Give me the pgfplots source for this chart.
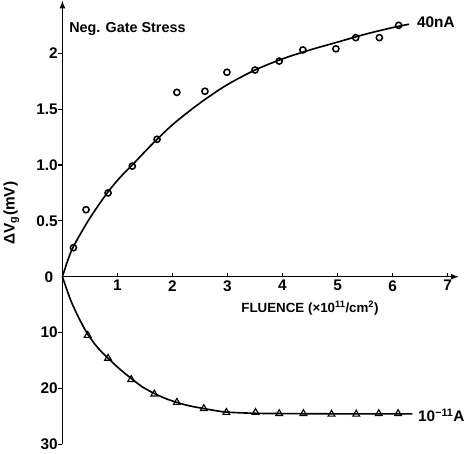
\documentclass[border=0pt]{standalone}
\usepackage{pgfplots}
\pgfplotsset{compat=1.18}
\usepackage{fontspec}
\setmainfont{Liberation Sans}

\begin{document}
\begin{tikzpicture}
\begin{axis}[
    scale only axis,
    width=385bp, height=431bp,
    xmin=0, xmax=7.2,
    ymin=-1.5, ymax=2.47,
    axis lines=middle,
    axis line style={line width=1.5pt},
    x axis line style={-latex},
    y axis line style={-latex},
    xtick={1,...,7},
    ytick={-1.5,-1,-0.5,0.5,1,1.5,2},
    yticklabels={30,20,10,0.5,1.0,1.5,2},
    xtick align=inside,
    ytick align=outside,
    major tick length=4bp,
    tick style={black, line width=1pt},
    tick label style={font=\fontsize{15}{18}\selectfont\bfseries},
    yticklabel style={xshift=3bp},
    /pgf/number format/assume math mode=true,
    clip=false]
    % 40 nA : upper curve
    \addplot[black, line width=1.6pt, smooth] coordinates {
        (0,0) (0.1,0.15) (0.2,0.27) (0.43,0.47) (0.6,0.6) (0.83,0.76)
        (1.05,0.89) (1.27,1.0) (1.5,1.12) (1.72,1.23) (2.0,1.36)
        (2.3,1.48) (2.6,1.59) (3.0,1.72) (3.5,1.85) (4.0,1.95)
        (4.5,2.03) (5.0,2.1) (5.5,2.17) (6.0,2.23) (6.3,2.26)
    };
    \addplot[black, only marks, mark=o, mark size=3pt, line width=1.5pt,
        mark options={fill=white}] coordinates {
        (0.2,0.26) (0.43,0.6) (0.83,0.75) (1.27,0.99) (1.72,1.23)
        (2.08,1.65) (2.59,1.66) (2.99,1.83) (3.5,1.85) (3.94,1.93)
        (4.37,2.03) (4.97,2.04) (5.33,2.14) (5.76,2.14) (6.11,2.25)
    };
    % 1e-11 A : lower curve, plotted at -value/20
    \addplot[black, line width=1.6pt, smooth] table[x=x, y expr=-\thisrow{v}/20] {
        x    v
        0    0
        0.15 4.2
        0.3  7.4
        0.46 10.3
        0.65 12.8
        0.83 14.6
        1.05 16.6
        1.25 18.2
        1.45 19.7
        1.67 20.9
        1.9  21.9
        2.08 22.5
        2.3  23.1
        2.57 23.6
        2.8  24.0
        3.0  24.25
        3.5  24.45
        4.0  24.5
        5.0  24.55
        6.0  24.55
        6.36 24.55
    };
    \addplot[black, only marks, mark=triangle, mark size=3.8pt, line width=1.1pt,
        mark options={fill=white}] table[x=x, y expr=-\thisrow{v}/20] {
        x    v
        0.46 10.5
        0.83 14.6
        1.25 18.4
        1.67 21.0
        2.08 22.5
        2.57 23.6
        2.98 24.3
        3.51 24.3
        3.94 24.5
        4.38 24.5
        4.89 24.6
        5.34 24.6
        5.75 24.5
        6.1  24.5
    };
    \node[anchor=east, font=\fontsize{15}{18}\selectfont\bfseries] at (axis cs:-0.1,0) {0};
    \node[anchor=west, font=\fontsize{14}{17}\selectfont\bfseries] at (axis cs:0.06,2.22) {Neg. Gate Stress};
    \node[anchor=west, font=\fontsize{15}{18}\selectfont\bfseries] at (axis cs:6.38,2.28) {40nA};
    \node[anchor=west, font=\fontsize{15}{18}\selectfont\bfseries] at (axis cs:6.4,-1.24) {10\textsuperscript{−11}A};
    \node[font=\fontsize{13}{16}\selectfont\bfseries] at (axis cs:4.5,-0.28) {FLUENCE (×10\textsuperscript{11}/cm\textsuperscript{2})};
    \node[rotate=90, font=\fontsize{15}{18}\selectfont\bfseries] at (axis cs:-0.93,0.57) {ΔV\textsubscript{g}(mV)};
\end{axis}
\end{tikzpicture}
\end{document}
